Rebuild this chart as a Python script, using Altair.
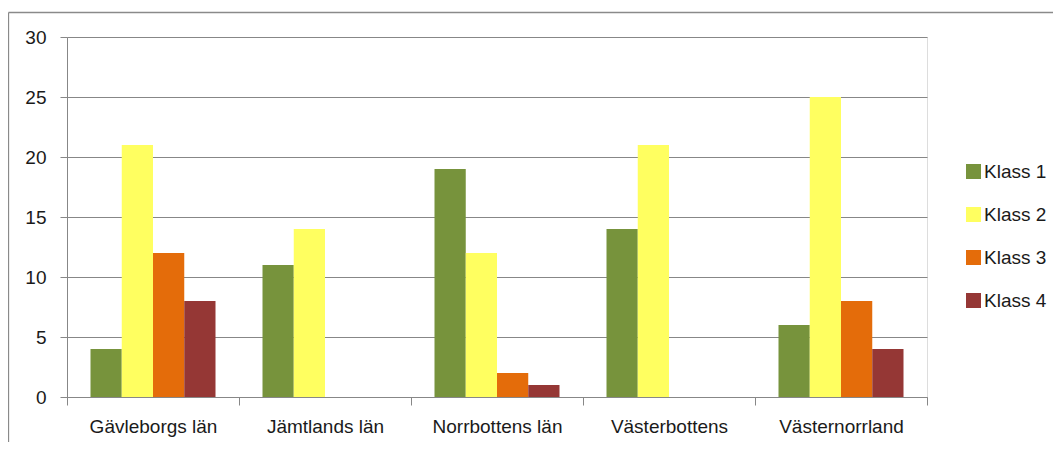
import altair as alt
import pandas as pd

categories = ["Gävleborgs län", "Jämtlands län", "Norrbottens län", "Västerbottens", "Västernorrland"]
series = ["Klass 1", "Klass 2", "Klass 3", "Klass 4"]
klass1 = [4, 11, 19, 14, 6]
klass2 = [21, 14, 12, 21, 25]
klass3 = [12, 0, 2, 0, 8]
klass4 = [8, 0, 1, 0, 4]
colors = ["#77933C", "#FFFF60", "#E46C0A", "#953735"]
y_ticks = [0, 5, 10, 15, 20, 25, 30]

rows = []
for s, vals in zip(series, [klass1, klass2, klass3, klass4]):
    for c, v in zip(categories, vals):
        rows.append({"Län": c, "Klass": s, "Antal": v})
df = pd.DataFrame(rows)

FONT = "Liberation Sans"
TXT = "#1a1a1a"
GRID = "#878787"

bars = alt.Chart(df).mark_bar(strokeWidth=0).encode(
    x=alt.X("Län:N", sort=categories, title=None,
            scale=alt.Scale(paddingInner=0, paddingOuter=0),
            axis=alt.Axis(labelAngle=0, tickBand="extent", tickSize=8,
                          labelPadding=12, domainColor=GRID, tickColor=GRID,
                          labelFont=FONT, labelFontSize=19, labelColor=TXT,
                          grid=False)),
    xOffset=alt.XOffset("Klass:N", sort=series,
                        scale=alt.Scale(paddingInner=0, paddingOuter=0.752)),
    y=alt.Y("Antal:Q", title=None,
            scale=alt.Scale(domain=[0, 30], nice=False),
            axis=alt.Axis(values=y_ticks, tickSize=7, labelPadding=14,
                          domainColor=GRID, tickColor=GRID, gridColor=GRID,
                          gridWidth=1, labelFont=FONT, labelFontSize=19,
                          labelColor=TXT)),
    color=alt.Color("Klass:N", sort=series,
                    scale=alt.Scale(domain=series, range=colors),
                    legend=alt.Legend(title=None, orient="none", legendX=897,
                                      legendY=125, symbolType="square",
                                      symbolSize=225, symbolStrokeWidth=0,
                                      labelFont=FONT, labelFontSize=19,
                                      labelColor=TXT, labelOffset=1,
                                      rowPadding=23)),
)

frame_data = alt.Data(values=[{"k": 1}])
frame_left = alt.Chart(frame_data).mark_rule(color="#8a8a8a", strokeWidth=1.3).encode(
    x=alt.value(-58.5), y=alt.value(-24.5), y2=alt.value(600)
)
frame_top = alt.Chart(frame_data).mark_rule(color="#8a8a8a", strokeWidth=1.3).encode(
    x=alt.value(-58.5), x2=alt.value(1100), y=alt.value(-24.5)
)

chart = alt.layer(bars, frame_left, frame_top).properties(
    width=860, height=360,
    autosize=alt.AutoSizeParams(type="none"),
    padding={"left": 59, "top": 29, "right": 126, "bottom": 45},
).configure_view(stroke=None).configure(background="white")

chart.save("out.html", embed_options={"renderer": "svg", "actions": False})
